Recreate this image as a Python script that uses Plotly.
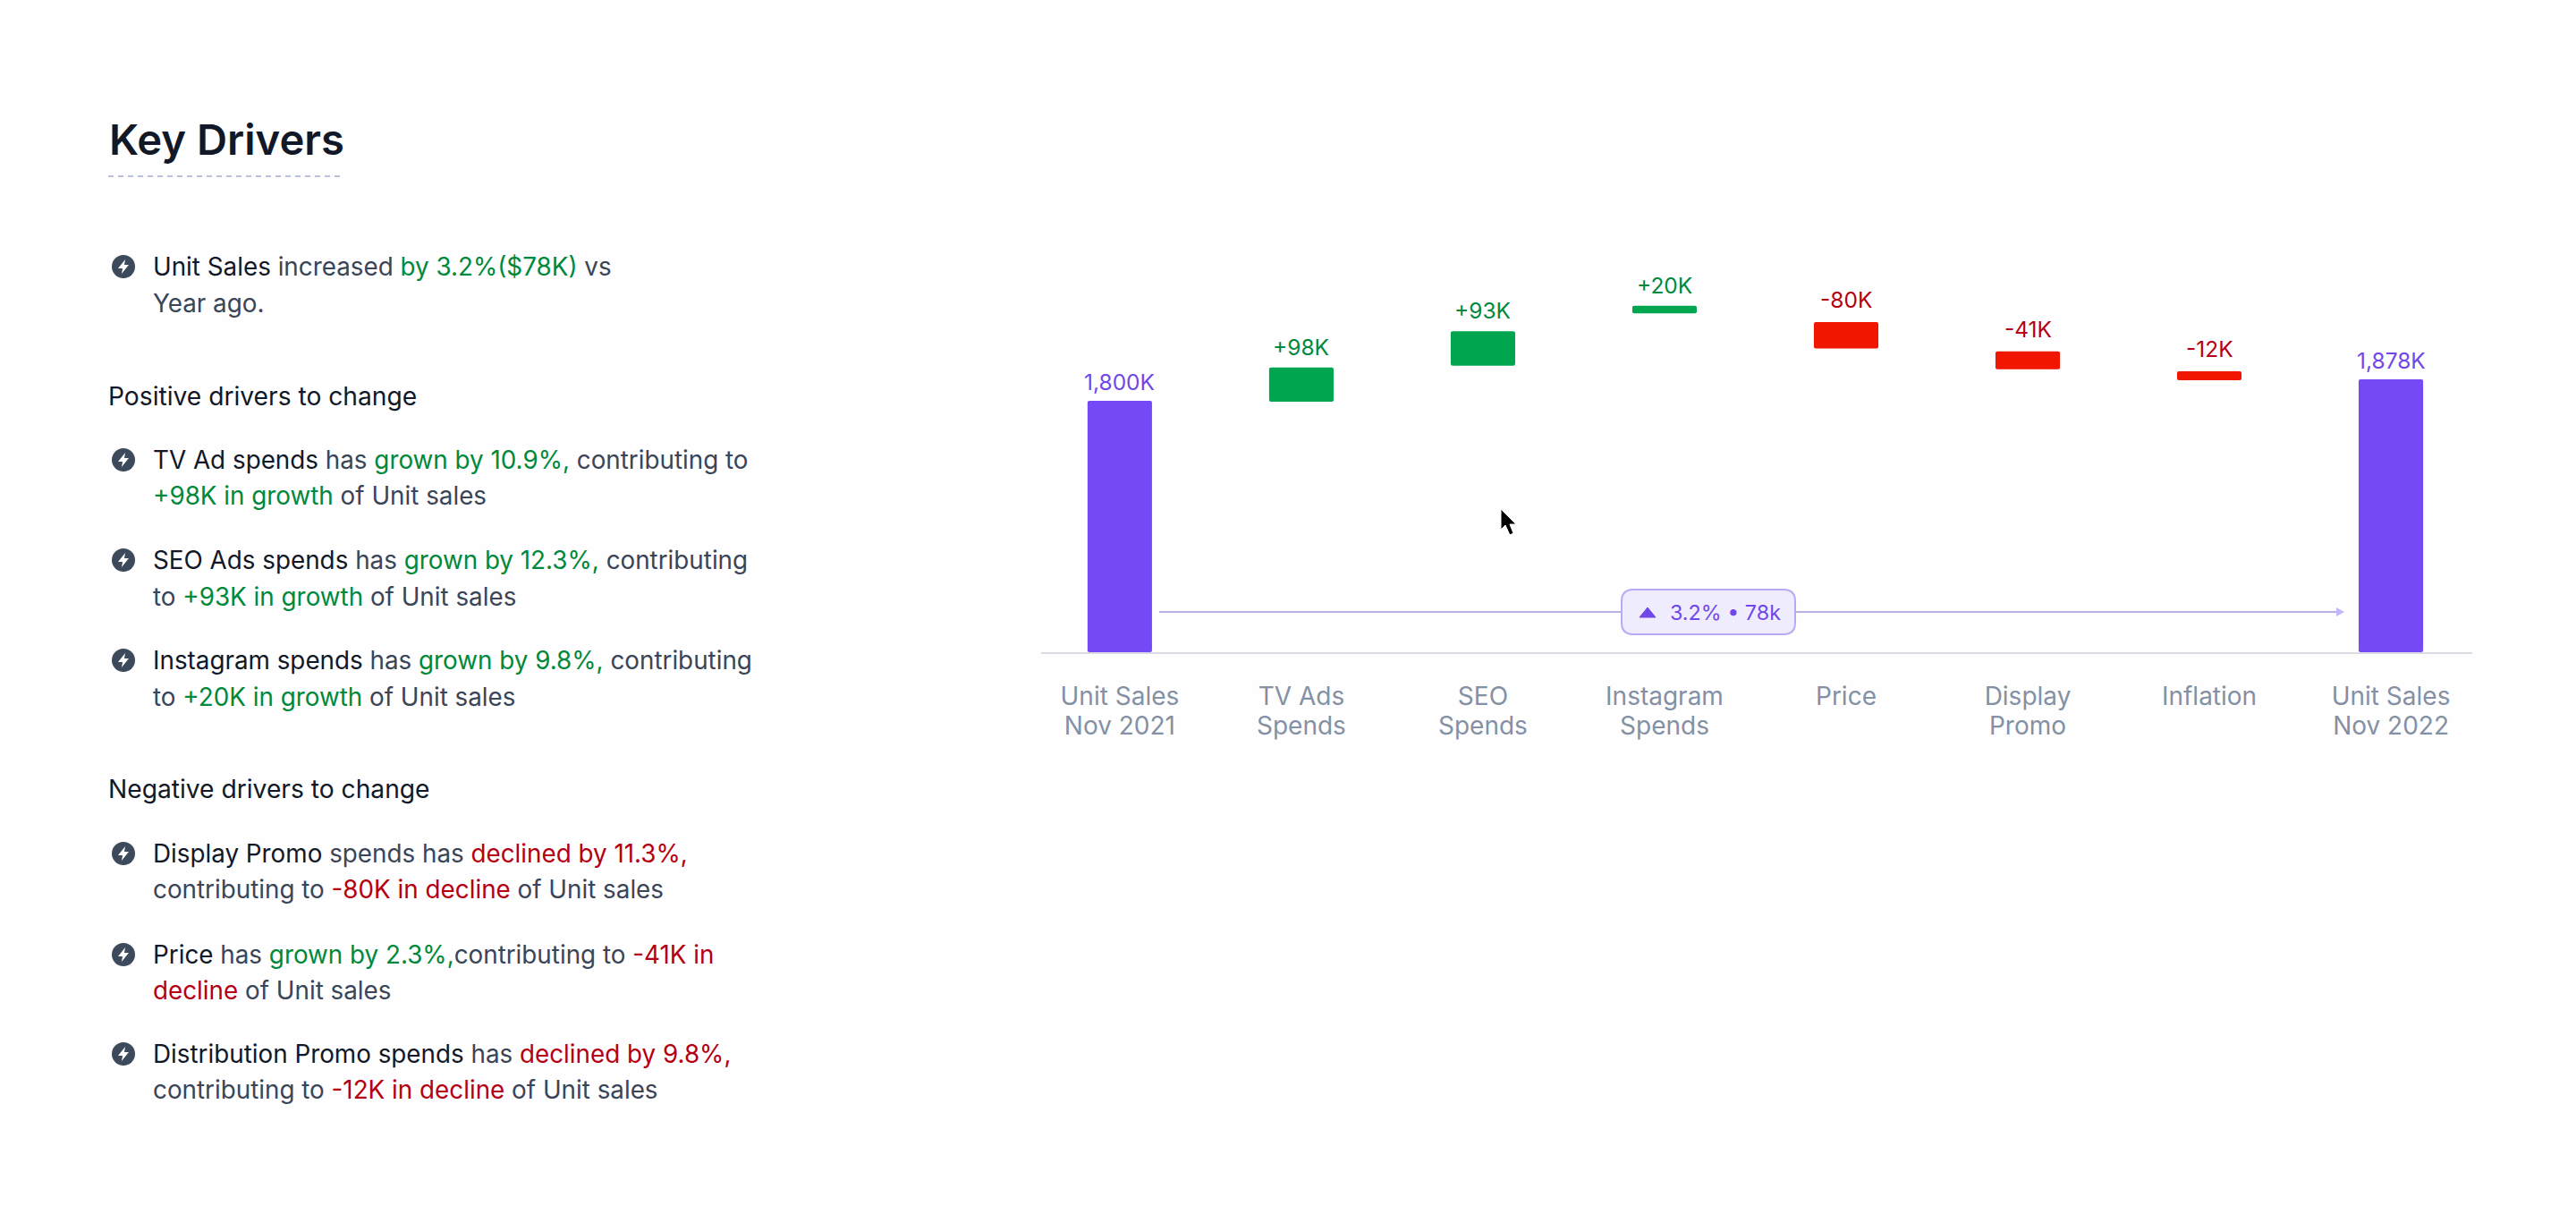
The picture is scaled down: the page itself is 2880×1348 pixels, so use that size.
import plotly.graph_objects as go

# ---------------------------------------------------
# 1. CHART DATA (waterfall, levels)
# ---------------------------------------------------

categories = ["Unit Sales Nov 2021", "TV Ads Spends", "SEO Spends", "Instagram Spends",
              "Price", "Display Promo", "Inflation", "Unit Sales Nov 2022"]
tick_lines = [["Unit Sales", "Nov 2021"], ["TV Ads", "Spends"], ["SEO", "Spends"], ["Instagram", "Spends"],
              ["Price"], ["Display", "Promo"], ["Inflation"], ["Unit Sales", "Nov 2022"]]
bar_bases = [887, 1797, 1928, 2118, 1990, 1915, 1875, 887]
bar_heights = [913, 124, 125, 27, 96, 65, 32, 991]
bar_labels = ["1,800K", "+98K", "+93K", "+20K", "-80K", "-41K", "-12K", "1,878K"]
bar_kinds = ["total", "up", "up", "up", "down", "down", "down", "total"]

# ---------------------------------------------------
# 2. LEFT PANEL TEXT
# ---------------------------------------------------

TOTAL_BAR = "#7549F5"
TOTAL_COL = "#7048E8"
UP_BAR = "#00A64F"
DOWN_BAR = "#F01600"
UP_TXT = "#00893C"
DOWN_TXT = "#B40012"
DARK = "#111827"
BODY = "#3B4558"
TICK = "#8490A4"

bar_cols = {"total": TOTAL_BAR, "up": UP_BAR, "down": DOWN_BAR}
label_cols = {"total": TOTAL_COL, "up": UP_TXT, "down": DOWN_TXT}
label_lift = {"total": 21, "up": 23, "down": 25}


def span(txt, col):
    return f'<span style="color:{col}">{txt}</span>'


def up(txt):
    return span(txt, UP_TXT)


def down(txt):
    return span(txt, DOWN_TXT)


def dark(txt):
    return span(txt, DARK)


# text, y centre in page pixels
body_lines = [
    (dark("Unit Sales") + " increased " + up("by 3.2%($78K)") + " vs", 298),
    ("Year ago.", 339),
    (dark("TV Ad spends") + " has " + up("grown by 10.9%,") + " contributing to", 514),
    (up("+98K in growth") + " of Unit sales", 554),
    (dark("SEO Ads spends") + " has " + up("grown by 12.3%,") + " contributing", 626),
    ("to " + up("+93K in growth") + " of Unit sales", 667),
    (dark("Instagram spends") + " has " + up("grown by 9.8%,") + " contributing", 738),
    ("to " + up("+20K in growth") + " of Unit sales", 779),
    (dark("Display Promo") + " spends has " + down("declined by 11.3%,"), 954),
    ("contributing to " + down("-80K in decline") + " of Unit sales", 994),
    (dark("Price") + " has " + up("grown by 2.3%,") + "contributing to " + down("-41K in"), 1067),
    (down("decline") + " of Unit sales", 1107),
    (dark("Distribution Promo spends") + " has " + down("declined by 9.8%,"), 1178),
    ("contributing to " + down("-12K in decline") + " of Unit sales", 1218),
]
headings = [("Positive drivers to change", 443), ("Negative drivers to change", 882)]
icon_rows = [298, 514, 626, 738, 954, 1067, 1178]

# ---------------------------------------------------
# 3. PAGE HELPERS (paper coords = whole page, see domains below)
# ---------------------------------------------------

W, H = 2880, 1348


def fx(px):
    return px / W


def fy(py):
    return 1 - py / H


def poly(points, close=True):
    d = "M" + " L".join(f"{fx(x):.5f},{fy(y):.5f}" for x, y in points)
    return d + (" Z" if close else "")


def rounded_box(x0, y0, x1, y1, r):
    # rounded rectangle path
    pts = [
        f"M{fx(x0 + r):.5f},{fy(y0):.5f}",
        f"L{fx(x1 - r):.5f},{fy(y0):.5f}",
        f"Q{fx(x1):.5f},{fy(y0):.5f} {fx(x1):.5f},{fy(y0 + r):.5f}",
        f"L{fx(x1):.5f},{fy(y1 - r):.5f}",
        f"Q{fx(x1):.5f},{fy(y1):.5f} {fx(x1 - r):.5f},{fy(y1):.5f}",
        f"L{fx(x0 + r):.5f},{fy(y1):.5f}",
        f"Q{fx(x0):.5f},{fy(y1):.5f} {fx(x0):.5f},{fy(y1 - r):.5f}",
        f"L{fx(x0):.5f},{fy(y0 + r):.5f}",
        f"Q{fx(x0):.5f},{fy(y0):.5f} {fx(x0 + r):.5f},{fy(y0):.5f} Z",
    ]
    return " ".join(pts)


# ---------------------------------------------------
# 4. WATERFALL
# ---------------------------------------------------

fig = go.Figure()

fig.add_trace(go.Bar(
    x=categories,
    y=bar_heights,
    base=bar_bases,
    width=0.355,
    marker=dict(color=[bar_cols[k] for k in bar_kinds], line=dict(width=0)),
    hoverinfo="skip",
))

# ---------------------------------------------------
# 5. DECORATION: TITLE RULE, ICONS, ARROW, BADGE, CURSOR
# ---------------------------------------------------

ARROW = "#B7B2E2"

shapes = [
    dict(type="line", xref="paper", yref="paper", x0=fx(121), x1=fx(385), y0=fy(197), y1=fy(197),
         line=dict(color="#B9C1D9", width=2, dash="6px,5px")),
    # change arrow
    dict(type="line", xref="paper", yref="paper", x0=fx(1296), x1=fx(1813), y0=fy(684), y1=fy(684),
         line=dict(color=ARROW, width=2)),
    dict(type="line", xref="paper", yref="paper", x0=fx(2007), x1=fx(2613), y0=fy(684), y1=fy(684),
         line=dict(color=ARROW, width=2)),
    dict(type="path", xref="paper", yref="paper", path=poly([(2612, 679), (2621, 684), (2612, 689)]),
         fillcolor="#C4B5FD", line=dict(width=0)),
    # badge
    dict(type="path", xref="paper", yref="paper", path=rounded_box(1813, 659, 2007, 709, 13),
         fillcolor="#EFECFE", line=dict(color="#BBA9F6", width=2)),
    dict(type="path", xref="paper", yref="paper", path=poly([(1842, 679), (1851, 690), (1833, 690)]),
         fillcolor=TOTAL_COL, line=dict(color=TOTAL_COL, width=1)),
    # mouse pointer
    dict(type="path", xref="paper", yref="paper",
         path=poly([(1678, 569), (1678, 592), (1683, 587), (1688, 598), (1692, 596), (1688, 586), (1695, 586)]),
         fillcolor="#000000", line=dict(color="#FFFFFF", width=1)),
]

for cy in icon_rows:
    shapes.append(dict(type="circle", xref="paper", yref="paper",
                       x0=fx(125), x1=fx(151), y0=fy(cy - 13), y1=fy(cy + 13),
                       fillcolor="#3D4A5C", line=dict(width=0)))
    shapes.append(dict(type="path", xref="paper", yref="paper",
                       path=poly([(140, cy - 8), (132, cy + 2), (137, cy + 2), (136, cy + 8), (144, cy - 2), (139, cy - 2)]),
                       fillcolor="#FFFFFF", line=dict(width=0)))

annotations = [
    dict(text="Key Drivers", x=fx(120), y=fy(155), font=dict(size=47.2, color="#111827", family="Inter", weight=600)),
    dict(text="3.2% • 78k", x=fx(1865), y=fy(684), font=dict(size=23.3, color=TOTAL_COL, family="Inter")),
]
for txt, cy in headings:
    annotations.append(dict(text=txt, x=fx(119), y=fy(cy), font=dict(size=28.2, color=DARK, family="Inter")))
for txt, cy in body_lines:
    annotations.append(dict(text=txt, x=fx(169), y=fy(cy), font=dict(size=27.8, color=BODY, family="Inter")))
for a in annotations:
    a.update(xref="paper", yref="paper", xanchor="left", yanchor="middle", showarrow=False, align="left")

# value labels sit above each bar top
for cat, base, height, lab, kind in zip(categories, bar_bases, bar_heights, bar_labels, bar_kinds):
    annotations.append(dict(
        x=cat, y=base + height, xref="x", yref="y", text=lab, showarrow=False,
        xanchor="center", yanchor="middle", yshift=label_lift[kind],
        font=dict(family="Inter", size=24.5, color=label_cols[kind]),
    ))

# ---------------------------------------------------
# 6. LAYOUT
# ---------------------------------------------------

# larger glyphs than the tick font so the two-line spacing stays tight
tick_text = ["<br>".join(f'<span style="font-size:28px">{ln}</span>' for ln in lines) for lines in tick_lines]

fig.update_layout(
    width=W,
    height=H,
    margin=dict(l=0, r=0, t=0, b=0),
    paper_bgcolor="#FEFEFE",
    plot_bgcolor="rgba(0,0,0,0)",
    showlegend=False,
    barcornerradius=2,
    shapes=shapes,
    annotations=annotations,
    xaxis=dict(
        domain=[fx(1164), fx(2764)],
        type="category",
        range=[-0.433, 7.448],
        tickmode="array",
        tickvals=categories,
        ticktext=tick_text,
        showgrid=False,
        zeroline=False,
        showline=True,
        linecolor="#DADCE3",
        linewidth=2,
        ticks="",
        ticklabelstandoff=26,
        tickfont=dict(family="Inter", size=25.5, color=TICK),
    ),
    yaxis=dict(
        domain=[fy(729), fy(300)],
        range=[887, 2281],
        visible=False,
    ),
)

# page margin off so the figure fills the window
fig.write_html("out.html", config={"displayModeBar": False},
               post_script="document.body.style.margin='0';document.body.style.background='#FEFEFE';")
